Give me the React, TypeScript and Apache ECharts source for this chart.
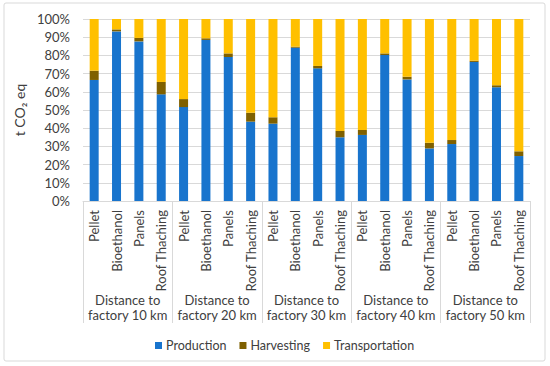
import React, { useEffect, useRef } from "react";
import * as echarts from "echarts";

const groups = ["Distance to\nfactory 10 km", "Distance to\nfactory 20 km", "Distance to\nfactory 30 km", "Distance to\nfactory 40 km", "Distance to\nfactory 50 km"];
const products = ["Pellet", "Bioethanol", "Panels", "Roof Thaching"];
const categories = groups.flatMap(() => products);

const production = [
  66.5, 93.2, 87.7, 58.6,
  51.6, 88.5, 79.1, 43.6,
  42.5, 84.2, 72.9, 35.0,
  36.3, 80.2, 66.8, 28.9,
  31.3, 76.4, 62.5, 24.7,
];
const harvesting = [
  5.1, 1.1, 1.9, 6.8,
  4.4, 0.9, 2.0, 4.9,
  3.5, 0.6, 1.3, 3.5,
  2.7, 0.9, 1.5, 3.1,
  2.2, 0.7, 1.1, 2.6,
];
const transportation = production.map((p, i) => +(100 - p - harvesting[i]).toFixed(1));

const yTicks = [0, 10, 20, 30, 40, 50, 60, 70, 80, 90, 100];

const FONT = "Lato";
const TXT = "#404040";
const GRID = "#D9D9D9";

export default function App() {
  const ref = useRef<HTMLDivElement>(null);
  useEffect(() => {
    if (!ref.current) return;
    const chart = echarts.init(ref.current, null, { renderer: "svg" });
    chart.setOption({
      animation: false,
      textStyle: { fontFamily: FONT },
      graphic: [
        {
          type: "rect",
          shape: { x: 4, y: 3, width: 541, height: 358, r: 2 },
          style: { fill: "#fff", stroke: GRID, lineWidth: 1 },
          z: -10,
        },
      ],
      grid: { left: 83, right: 20, top: 19, bottom: 165 },
      legend: {
        data: ["Production", "Harvesting", "Transportation"],
        left: 150,
        top: 334,
        itemWidth: 7,
        itemHeight: 7,
        itemGap: 13,
        icon: "rect",
        textStyle: { fontFamily: FONT, fontSize: 12.5, color: TXT, padding: [0, 0, 0, -1] },
      },
      xAxis: [
        {
          type: "category",
          data: categories,
          axisLine: { show: true, lineStyle: { color: GRID } },
          axisTick: { show: false },
          axisLabel: {
            interval: 0,
            rotate: 90,
            margin: 9,
            fontFamily: FONT,
            fontSize: 13,
            color: TXT,
          },
        },
        {
          type: "category",
          data: groups,
          position: "bottom",
          axisLine: { show: false },
          axisTick: { show: true, length: 122, lineStyle: { color: GRID } },
          axisLabel: {
            interval: 0,
            margin: 91,
            fontFamily: FONT,
            fontSize: 13,
            lineHeight: 15,
            color: TXT,
          },
        },
      ],
      yAxis: {
        type: "value",
        min: 0,
        max: 100,
        interval: 10,
        name: "t CO₂ eq",
        nameLocation: "middle",
        nameRotate: 90,
        nameGap: 47,
        nameTextStyle: { fontFamily: FONT, fontSize: 14, color: TXT },
        axisLine: { show: false },
        axisTick: { show: false },
        splitLine: { lineStyle: { color: GRID } },
        axisLabel: {
          margin: 13,
          fontFamily: FONT,
          fontSize: 13,
          color: TXT,
          formatter: (v: number) => (yTicks.includes(v) ? v + "%" : ""),
        },
      },
      series: [
        { name: "Production", type: "bar", stack: "s", data: production, barWidth: 9, itemStyle: { color: "#1874CD" } },
        { name: "Harvesting", type: "bar", stack: "s", data: harvesting, barWidth: 9, itemStyle: { color: "#7F6000" } },
        { name: "Transportation", type: "bar", stack: "s", data: transportation, barWidth: 9, itemStyle: { color: "#FFC000" } },
      ],
    });
    return () => chart.dispose();
  }, []);
  return (
    <div
      ref={ref}
      style={{ position: "fixed", left: 0, top: 0, width: 550, height: 366, background: "#fff" }}
    />
  );
}
